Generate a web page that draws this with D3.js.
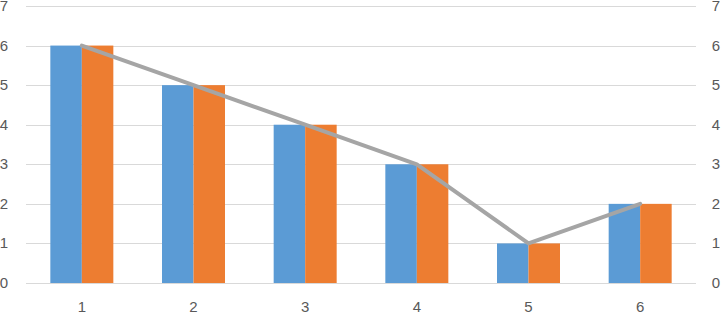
<!DOCTYPE html>
<html>
<head>
<meta charset="utf-8">
<script src="https://cdn.jsdelivr.net/npm/d3@7"></script>
<style>
  body { margin: 0; background: #fff; }
  text { font-family: "Liberation Sans", "Open Sans", sans-serif; font-size: 15px; fill: #595959; }
</style>
</head>
<body>
<svg id="chart" width="722" height="314"></svg>
<script>
/* global d3 : false */

const categories = ["1", "2", "3", "4", "5", "6"];
const seriesA = [6, 5, 4, 3, 1, 2];
const seriesB = [6, 5, 4, 3, 1, 2];
const lineValues = [6, 5, 4, 3, 1, 2];
const yTicks = [0, 1, 2, 3, 4, 5, 6, 7];

const svg = d3.select("#chart");
const plotLeft = 26, plotRight = 696, plotTop = 6, plotBottom = 283;

const x = d3.scaleBand().domain(categories).range([plotLeft, plotRight]);
const inner = d3.scaleBand().domain(["a", "b"]).range([0, 63]);
const y = d3.scaleLinear().domain([0, 7]).range([plotBottom, plotTop]);

// gridlines
svg.append("g")
    .selectAll("line")
    .data(yTicks)
    .join("line")
    .attr("x1", plotLeft)
    .attr("x2", plotRight)
    .attr("y1", d => Math.round(y(d)) + 0.5)
    .attr("y2", d => Math.round(y(d)) + 0.5)
    .attr("stroke", "#d9d9d9")
    .attr("stroke-width", 1);

// tick labels, both sides
svg.append("g")
    .selectAll("text")
    .data(yTicks)
    .join("text")
    .attr("x", 4)
    .attr("y", d => y(d) + 5)
    .attr("text-anchor", "middle")
    .text(d => d);

svg.append("g")
    .selectAll("text")
    .data(yTicks)
    .join("text")
    .attr("x", 716)
    .attr("y", d => y(d) + 5)
    .attr("text-anchor", "middle")
    .text(d => d);

svg.append("g")
    .selectAll("text")
    .data(categories)
    .join("text")
    .attr("x", d => x(d) + x.bandwidth() / 2)
    .attr("y", 312)
    .attr("text-anchor", "middle")
    .text(d => d);

// bars
const groups = svg.append("g")
    .selectAll("g")
    .data(categories)
    .join("g")
    .attr("transform", d => `translate(${x(d) + x.bandwidth() / 2 - 31.5},0)`);

groups.append("rect")
    .attr("x", inner("a"))
    .attr("width", inner.bandwidth())
    .attr("y", (d, i) => y(seriesA[i]))
    .attr("height", (d, i) => y(0) - y(seriesA[i]))
    .attr("fill", "#5b9bd5");

groups.append("rect")
    .attr("x", inner("b"))
    .attr("width", inner.bandwidth())
    .attr("y", (d, i) => y(seriesB[i]))
    .attr("height", (d, i) => y(0) - y(seriesB[i]))
    .attr("fill", "#ed7d31");

// line
const line = d3.line()
    .x((d, i) => x(categories[i]) + x.bandwidth() / 2)
    .y(d => y(d));

svg.append("path")
    .datum(lineValues)
    .attr("d", line)
    .attr("fill", "none")
    .attr("stroke", "#a5a5a5")
    .attr("stroke-width", 4)
    .attr("stroke-linejoin", "round")
    .attr("stroke-linecap", "round");
</script>
</body>
</html>
